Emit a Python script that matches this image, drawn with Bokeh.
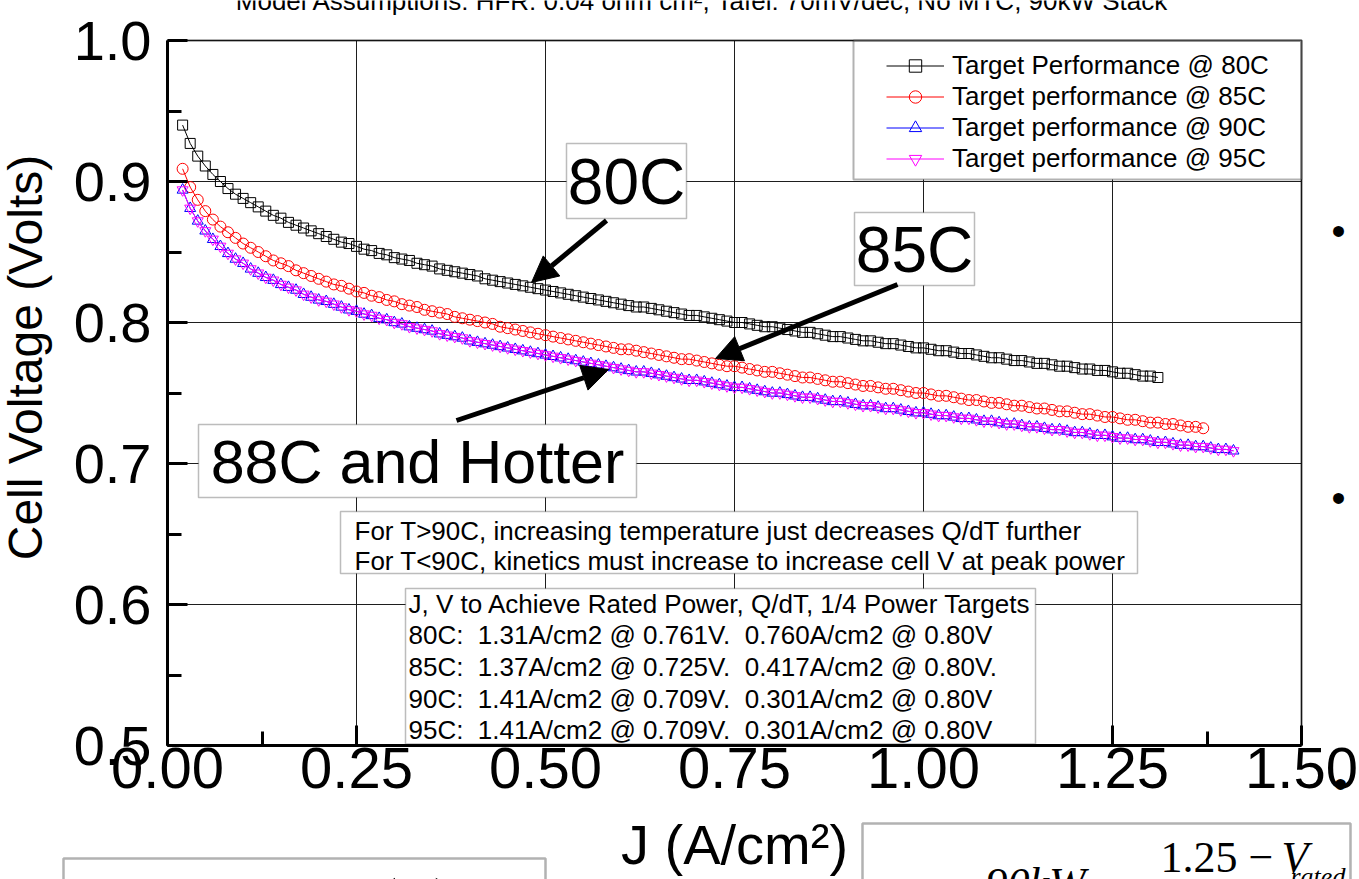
from bokeh.plotting import figure
from bokeh.models import (Range1d, FixedTicker, PrintfTickFormatter, Label, Legend,
                          LegendItem, BoxAnnotation, Arrow, NormalHead)
from bokeh.embed import file_html
from bokeh.resources import INLINE

# ---------------- data ----------------
J_ALL = [
    0.02, 0.03, 0.04, 0.05, 0.06, 0.07, 0.08, 0.09, 0.10, 0.11,
    0.12, 0.13, 0.14, 0.15, 0.16, 0.17, 0.18, 0.19, 0.20, 0.21,
    0.22, 0.23, 0.24, 0.25, 0.26, 0.27, 0.28, 0.29, 0.30, 0.31,
    0.32, 0.33, 0.34, 0.35, 0.36, 0.37, 0.38, 0.39, 0.40, 0.41,
    0.42, 0.43, 0.44, 0.45, 0.46, 0.47, 0.48, 0.49, 0.50, 0.51,
    0.52, 0.53, 0.54, 0.55, 0.56, 0.57, 0.58, 0.59, 0.60, 0.61,
    0.62, 0.63, 0.64, 0.65, 0.66, 0.67, 0.68, 0.69, 0.70, 0.71,
    0.72, 0.73, 0.74, 0.75, 0.76, 0.77, 0.78, 0.79, 0.80, 0.81,
    0.82, 0.83, 0.84, 0.85, 0.86, 0.87, 0.88, 0.89, 0.90, 0.91,
    0.92, 0.93, 0.94, 0.95, 0.96, 0.97, 0.98, 0.99, 1.00, 1.01,
    1.02, 1.03, 1.04, 1.05, 1.06, 1.07, 1.08, 1.09, 1.10, 1.11,
    1.12, 1.13, 1.14, 1.15, 1.16, 1.17, 1.18, 1.19, 1.20, 1.21,
    1.22, 1.23, 1.24, 1.25, 1.26, 1.27, 1.28, 1.29, 1.30, 1.31,
    1.32, 1.33, 1.34, 1.35, 1.36, 1.37, 1.38, 1.39, 1.40, 1.41,
]

V_80C = [
    0.940, 0.927, 0.918, 0.911, 0.905, 0.900, 0.895, 0.891, 0.888, 0.885,
    0.882, 0.879, 0.876, 0.874, 0.871, 0.869, 0.867, 0.865, 0.863, 0.861,
    0.859, 0.857, 0.856, 0.854, 0.852, 0.851, 0.849, 0.848, 0.846, 0.845,
    0.844, 0.842, 0.841, 0.840, 0.838, 0.837, 0.836, 0.835, 0.834, 0.833,
    0.831, 0.830, 0.829, 0.828, 0.827, 0.826, 0.825, 0.824, 0.823, 0.822,
    0.821, 0.820, 0.819, 0.818, 0.817, 0.816, 0.815, 0.814, 0.813, 0.812,
    0.811, 0.811, 0.810, 0.809, 0.808, 0.807, 0.806, 0.805, 0.805, 0.804,
    0.803, 0.802, 0.801, 0.800, 0.800, 0.799, 0.798, 0.797, 0.797, 0.796,
    0.795, 0.794, 0.793, 0.793, 0.792, 0.791, 0.790, 0.790, 0.789, 0.788,
    0.787, 0.787, 0.786, 0.785, 0.785, 0.784, 0.783, 0.782, 0.782, 0.781,
    0.780, 0.780, 0.779, 0.778, 0.778, 0.777, 0.776, 0.775, 0.775, 0.774,
    0.773, 0.773, 0.772, 0.771, 0.771, 0.770, 0.769, 0.769, 0.768, 0.767,
    0.767, 0.766, 0.766, 0.765, 0.764, 0.764, 0.763, 0.762, 0.762, 0.761,
]

V_85C = [
    0.909, 0.896, 0.887, 0.879, 0.873, 0.868, 0.864, 0.860, 0.856, 0.853,
    0.850, 0.847, 0.844, 0.842, 0.840, 0.837, 0.835, 0.833, 0.831, 0.829,
    0.827, 0.826, 0.824, 0.822, 0.821, 0.819, 0.818, 0.816, 0.815, 0.813,
    0.812, 0.811, 0.809, 0.808, 0.807, 0.806, 0.804, 0.803, 0.802, 0.801,
    0.800, 0.799, 0.797, 0.796, 0.795, 0.794, 0.793, 0.792, 0.791, 0.790,
    0.789, 0.788, 0.787, 0.786, 0.785, 0.784, 0.783, 0.782, 0.781, 0.781,
    0.780, 0.779, 0.778, 0.777, 0.776, 0.775, 0.774, 0.774, 0.773, 0.772,
    0.771, 0.770, 0.769, 0.769, 0.768, 0.767, 0.766, 0.765, 0.765, 0.764,
    0.763, 0.762, 0.761, 0.761, 0.760, 0.759, 0.758, 0.758, 0.757, 0.756,
    0.755, 0.755, 0.754, 0.753, 0.753, 0.752, 0.751, 0.750, 0.750, 0.749,
    0.748, 0.748, 0.747, 0.746, 0.745, 0.745, 0.744, 0.743, 0.743, 0.742,
    0.741, 0.741, 0.740, 0.739, 0.739, 0.738, 0.737, 0.737, 0.736, 0.735,
    0.735, 0.734, 0.733, 0.733, 0.732, 0.731, 0.731, 0.730, 0.729, 0.729,
    0.728, 0.728, 0.727, 0.726, 0.726, 0.725,
]

V_90C = [
    0.894, 0.881, 0.872, 0.865, 0.859, 0.854, 0.849, 0.845, 0.842, 0.838,
    0.835, 0.832, 0.830, 0.827, 0.825, 0.823, 0.820, 0.818, 0.816, 0.815,
    0.813, 0.811, 0.809, 0.808, 0.806, 0.805, 0.803, 0.802, 0.800, 0.799,
    0.797, 0.796, 0.795, 0.794, 0.792, 0.791, 0.790, 0.789, 0.787, 0.786,
    0.785, 0.784, 0.783, 0.782, 0.781, 0.780, 0.779, 0.778, 0.777, 0.776,
    0.775, 0.774, 0.773, 0.772, 0.771, 0.770, 0.769, 0.768, 0.767, 0.766,
    0.765, 0.765, 0.764, 0.763, 0.762, 0.761, 0.760, 0.759, 0.759, 0.758,
    0.757, 0.756, 0.755, 0.754, 0.754, 0.753, 0.752, 0.751, 0.750, 0.750,
    0.749, 0.748, 0.747, 0.747, 0.746, 0.745, 0.744, 0.744, 0.743, 0.742,
    0.741, 0.741, 0.740, 0.739, 0.739, 0.738, 0.737, 0.736, 0.736, 0.735,
    0.734, 0.734, 0.733, 0.732, 0.732, 0.731, 0.730, 0.730, 0.729, 0.728,
    0.728, 0.727, 0.726, 0.726, 0.725, 0.724, 0.724, 0.723, 0.722, 0.722,
    0.721, 0.720, 0.720, 0.719, 0.718, 0.718, 0.717, 0.717, 0.716, 0.715,
    0.715, 0.714, 0.713, 0.713, 0.712, 0.712, 0.711, 0.710, 0.710, 0.709,
]

V_95C = [
    0.894, 0.881, 0.872, 0.865, 0.859, 0.854, 0.849, 0.845, 0.842, 0.838,
    0.835, 0.832, 0.830, 0.827, 0.825, 0.823, 0.820, 0.818, 0.816, 0.815,
    0.813, 0.811, 0.809, 0.808, 0.806, 0.805, 0.803, 0.802, 0.800, 0.799,
    0.797, 0.796, 0.795, 0.794, 0.792, 0.791, 0.790, 0.789, 0.787, 0.786,
    0.785, 0.784, 0.783, 0.782, 0.781, 0.780, 0.779, 0.778, 0.777, 0.776,
    0.775, 0.774, 0.773, 0.772, 0.771, 0.770, 0.769, 0.768, 0.767, 0.766,
    0.765, 0.765, 0.764, 0.763, 0.762, 0.761, 0.760, 0.759, 0.759, 0.758,
    0.757, 0.756, 0.755, 0.754, 0.754, 0.753, 0.752, 0.751, 0.750, 0.750,
    0.749, 0.748, 0.747, 0.747, 0.746, 0.745, 0.744, 0.744, 0.743, 0.742,
    0.741, 0.741, 0.740, 0.739, 0.739, 0.738, 0.737, 0.736, 0.736, 0.735,
    0.734, 0.734, 0.733, 0.732, 0.732, 0.731, 0.730, 0.730, 0.729, 0.728,
    0.728, 0.727, 0.726, 0.726, 0.725, 0.724, 0.724, 0.723, 0.722, 0.722,
    0.721, 0.720, 0.720, 0.719, 0.718, 0.718, 0.717, 0.717, 0.716, 0.715,
    0.715, 0.714, 0.713, 0.713, 0.712, 0.712, 0.711, 0.710, 0.710, 0.709,
]

J_80C = J_ALL[:len(V_80C)]
J_85C = J_ALL[:len(V_85C)]
J_90C = J_ALL[:len(V_90C)]
J_95C = J_ALL[:len(V_95C)]

SERIES_LABELS = ["Target Performance @ 80C", "Target performance @ 85C",
                 "Target performance @ 90C", "Target performance @ 95C"]

X_TICKS = [0.0, 0.25, 0.5, 0.75, 1.0, 1.25, 1.5]
X_MINOR = [0.125, 0.375, 0.625, 0.875, 1.125, 1.375]
Y_TICKS = [0.5, 0.6, 0.7, 0.8, 0.9, 1.0]
Y_MINOR = [0.55, 0.65, 0.75, 0.85, 0.95]

NB = "\u00a0"
TARGET_LINES = [
    "J, V to Achieve Rated Power, Q/dT, 1/4 Power Targets",
    "80C:" + NB + " 1.31A/cm2 @ 0.761V." + NB + " 0.760A/cm2 @ 0.80V",
    "85C:" + NB + " 1.37A/cm2 @ 0.725V." + NB + " 0.417A/cm2 @ 0.80V.",
    "90C:" + NB + " 1.41A/cm2 @ 0.709V." + NB + " 0.301A/cm2 @ 0.80V",
    "95C:" + NB + " 1.41A/cm2 @ 0.709V." + NB + " 0.301A/cm2 @ 0.80V",
]
NOTE_LINES = [
    "For T>90C, increasing temperature just decreases Q/dT further",
    "For T<90C, kinetics must increase to increase cell V at peak power",
]
TITLE = "Model Assumptions: HFR: 0.04 ohm cm², Tafel: 70mV/dec, No MTC, 90kW Stack"

# ---------------- layout ----------------
# The plot frame fills the whole canvas; the axes are pinned (fixed_location)
# so that the chart area sits at pixels x 167..1301, y 40..745.
W, H = 1359, 879
PL, PR, PT, PB = 167, 1301, 40, 745
X0, X1, Y0, Y1 = 0.0, 1.5, 0.5, 1.0


def dx(px):
    return X0 + (px - PL) * (X1 - X0) / (PR - PL)


def dy(py):
    return Y0 + (PB - py) * (Y1 - Y0) / (PB - PT)


SANS = "Liberation Sans"
SERIF = "Liberation Serif"

p = figure(width=W, height=H, x_range=Range1d(dx(0), dx(W)), y_range=Range1d(dy(H), dy(0)),
           output_backend="svg", toolbar_location=None,
           min_border=0, min_border_left=0, min_border_right=0,
           min_border_top=0, min_border_bottom=0,
           background_fill_color="white", border_fill_color="white")
p.title.visible = False
p.outline_line_color = None

for ax, ticks, minor, fmt, fs, so, loc, bnd in (
        (p.xaxis[0], X_TICKS, X_MINOR, "%.2f", "58px", 2, Y0, (X0, X1)),
        (p.yaxis[0], Y_TICKS, Y_MINOR, "%.1f", "56px", 16, X0, (Y0, Y1))):
    ax.fixed_location = loc
    ax.bounds = bnd
    ax.ticker = FixedTicker(ticks=ticks, minor_ticks=minor)
    ax.formatter = PrintfTickFormatter(format=fmt)
    ax.axis_line_width = 3
    ax.axis_line_color = "black"
    ax.major_tick_in = 20
    ax.major_tick_out = 0
    ax.minor_tick_in = 14
    ax.minor_tick_out = 0
    ax.major_tick_line_width = 3
    ax.minor_tick_line_width = 3
    ax.major_tick_line_color = "black"
    ax.minor_tick_line_color = "black"
    ax.major_label_text_font = SANS
    ax.major_label_text_font_size = fs
    ax.major_label_text_color = "black"
    ax.major_label_standoff = so

p.xaxis.axis_label = "J (A/cm²)"
p.xaxis.axis_label_text_font = SANS
p.xaxis.axis_label_text_font_size = "56px"
p.xaxis.axis_label_text_font_style = "normal"
p.xaxis.axis_label_text_color = "black"
p.xaxis.axis_label_standoff = 22

p.xgrid.ticker = FixedTicker(ticks=X_TICKS)
p.ygrid.ticker = FixedTicker(ticks=Y_TICKS)
for g in (p.xgrid[0], p.ygrid[0]):
    g.grid_line_color = "#1e1e1e"
    g.grid_line_width = 1
try:
    p.xgrid[0].bounds = (X0, X1)
    p.xgrid[0].cross_bounds = (Y0, Y1)
    p.ygrid[0].bounds = (Y0, Y1)
    p.ygrid[0].cross_bounds = (X0, X1)
except Exception:
    p.xgrid.visible = False
    p.ygrid.visible = False
    p.segment(x0=X_TICKS, y0=[Y0] * len(X_TICKS), x1=X_TICKS, y1=[Y1] * len(X_TICKS),
              line_color="#1e1e1e", line_width=1, level="underlay")
    p.segment(x0=[X0] * len(Y_TICKS), y0=Y_TICKS, x1=[X1] * len(Y_TICKS), y1=Y_TICKS,
              line_color="#1e1e1e", line_width=1, level="underlay")

# ---------------- series ----------------
specs = [
    (J_80C, V_80C, "black", "square", 10),
    (J_85C, V_85C, "red", "circle", 11),
    (J_90C, V_90C, "blue", "triangle", 11),
    (J_95C, V_95C, "magenta", "inverted_triangle", 11),
]
items = []
for (jx, vy, col, mk, sz), lab in zip(specs, SERIES_LABELS):
    ln = p.line(jx, vy, line_color=col, line_width=1)
    sc = p.scatter(jx, vy, marker=mk, size=sz, line_color=col, fill_alpha=0, line_width=1)
    items.append(LegendItem(label=lab, renderers=[ln, sc]))

# ---------------- legend box + legend ----------------
p.add_layout(BoxAnnotation(left=dx(853), right=X1, top=Y1, bottom=dy(179),
                           fill_color="white", fill_alpha=1,
                           line_color="black", line_width=2))
legend = Legend(items=items, location=(886, H - 174),
                padding=0, spacing=0, margin=0,
                glyph_width=58, glyph_height=31, label_height=31, label_standoff=8,
                border_line_alpha=0, background_fill_alpha=0,
                label_text_font=SANS, label_text_font_size="26px",
                label_text_color="black")
p.add_layout(legend)


def box(l, r, t, b, lw=1.5, fill=True, color="#222222"):
    p.add_layout(BoxAnnotation(left=dx(l), right=dx(r), top=dy(t), bottom=dy(b),
                               fill_color="white", fill_alpha=1 if fill else 0,
                               line_color=color, line_width=lw))


def label(px, py, text, font=SANS, size="26px", align="left", baseline="middle",
          angle=0.0, style="normal"):
    p.add_layout(Label(x=dx(px), y=dy(py), text=text, text_font=font,
                       text_font_size=size, text_align=align, text_baseline=baseline,
                       angle=angle, text_font_style=style, text_color="black"))


# note boxes
box(340, 1137, 511, 573)
for i, t in enumerate(NOTE_LINES):
    label(354, 530 + 30 * i, t)

box(405, 1035, 588, 743.5)
for i, t in enumerate(TARGET_LINES):
    label(408, 603 + 31.7 * i, t)

# big temperature labels
box(566, 686, 143, 218)
label(626, 181, "80C", size="64px", align="center")
box(854, 974, 212, 285)
label(914, 249, "85C", size="64px", align="center")
box(198, 636, 424, 497)
label(417, 461, "88C and Hotter", size="61px", align="center")

for (x0, y0, x1, y1) in ((606, 220, 531, 282), (897, 284, 715, 358), (456, 420, 608, 369)):
    p.add_layout(Arrow(end=NormalHead(size=26, fill_color="black", line_color="black"),
                       x_start=dx(x0), y_start=dy(y0), x_end=dx(x1), y_end=dy(y1),
                       line_width=5, line_color="black"))

# frame outline of the chart area
p.add_layout(BoxAnnotation(left=X0, right=X1, top=Y1, bottom=Y0, fill_alpha=0,
                           line_color="black", line_width=3))

# y title and slide text around the chart
label(25, 357, "Cell Voltage (Volts)", size="48px", align="center", angle=1.5708)
label(702, 0, TITLE, size="26px", align="center", baseline="middle")

for (bx, by) in ((1338, 230), (1338, 497), (1340, 783)):
    label(bx, by, "•", size="40px", align="center")

# bottom slide boxes (cut off by the page edge)
box(63, 545, 858, 930, lw=2.5, fill=False, color="black")
box(862, 1350, 823, 930, lw=2.5, fill=False, color="black")
label(386, 864, "(", font=SERIF, size="64px", align="center", baseline="top")
label(444, 864, ")", font=SERIF, size="64px", align="center", baseline="top")
label(985, 858, "90kW ·", font=SERIF, size="44px", baseline="top", style="italic")
label(1160, 832, "1.25 −", font=SERIF, size="44px", baseline="top")
label(1281, 832, "V", font=SERIF, size="44px", baseline="top", style="italic")
label(1290, 861, "rated", font=SERIF, size="26px", baseline="top", style="italic")

open("out.html", "w").write(file_html(p, INLINE))
